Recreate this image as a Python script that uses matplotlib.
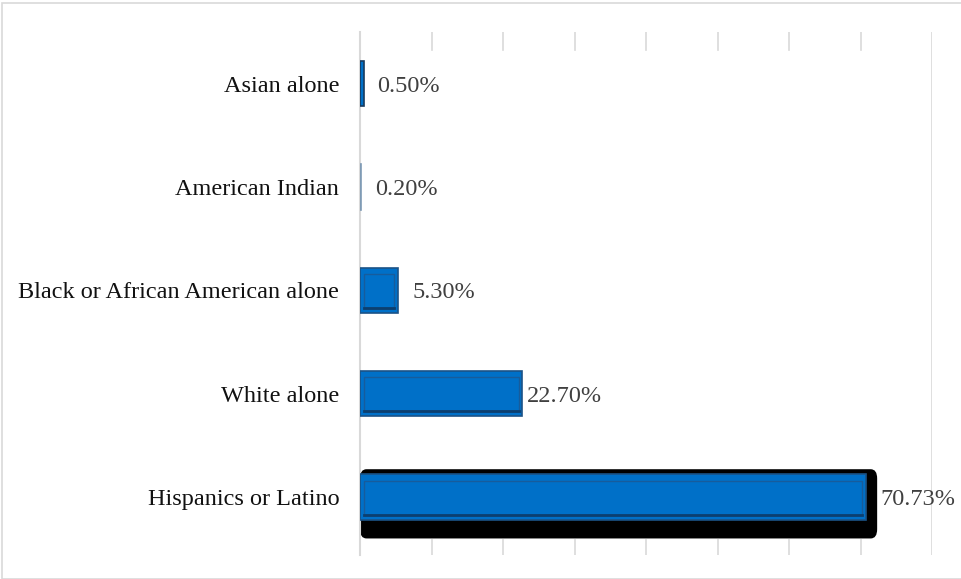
import matplotlib.pyplot as plt
from matplotlib.patches import FancyBboxPatch, Rectangle

# data (bottom to top, as drawn)
categories = ['Hispanics or Latino', 'White alone', 'Black or African American alone',
              'American Indian', 'Asian alone']
values = [70.73, 22.70, 5.30, 0.20, 0.50]
value_labels = ['70.73%', '22.70%', '5.30%', '0.20%', '0.50%']
label_offsets = [2, 3.6, 10.8, 10, 9.4]   # points, as placed in the original

plt.rcParams['font.family'] = ['Liberation Serif', 'DejaVu Serif']

fig = plt.figure(figsize=(9.61, 5.79), dpi=100)
ax = fig.add_axes([360/961, 1 - 555/579, 572/961, 523/579])

ax.set_xlim(0, 80)
ax.set_ylim(-0.56, 4.5)
ypos = list(range(len(categories)))
bar_h = 0.44

# black shadow behind the largest bar
big = values.index(max(values))
shadow = FancyBboxPatch((0, ypos[big] - 0.40), values[big] + 1.6, 0.67,
                        boxstyle='round,pad=0,rounding_size=0.9',
                        mutation_aspect=0.1, facecolor='black', edgecolor='none', zorder=2)
ax.add_patch(shadow)

edge_cols = ['#1b5387', '#1b5387', '#1b5387', '#7f9bb5', '#173a5e']
ax.barh(ypos, values, height=bar_h, color='#0070c8', edgecolor=edge_cols,
        linewidth=1.2, zorder=3)
# inner bevel outline
for y, v in zip(ypos, values):
    if v > 2:
        ax.add_patch(Rectangle((0.5, y - bar_h/2 + 0.05), v - 1.0, bar_h - 0.11,
                               fill=False, edgecolor='#175c9c', linewidth=1.0, zorder=4))
        ax.plot([0.5, v - 0.5], [y - bar_h/2 + 0.05] * 2, color='#0c3f6f', lw=2.0, zorder=4)

for y, v, lab, off in zip(ypos, values, value_labels, label_offsets):
    extra = 1.6 if y == ypos[big] else 0
    ax.annotate(lab, (v + extra, y), xytext=(off, 0),
                textcoords='offset points', va='center_baseline', ha='left',
                fontsize=17.5, color='#404040')

ax.set_yticks(ypos)
ax.set_yticklabels(categories, fontsize=17.5, color='#111111')
ax.tick_params(axis='y', length=0, pad=15)
ax.set_xticks([])

# gridlines only visible as short stubs at top and bottom
for x in range(10, 80, 10):
    ax.axvline(x, ymin=0, ymax=15/523, color='#d9d9d9', lw=1.2, zorder=1)
    ax.axvline(x, ymin=1 - 18/523, ymax=1, color='#d9d9d9', lw=1.2, zorder=1)
ax.axvline(80, color='#d9d9d9', lw=1.2, zorder=1)

for s in ['top', 'right', 'bottom']:
    ax.spines[s].set_visible(False)
ax.spines['left'].set_color('#d9d9d9')
ax.spines['left'].set_linewidth(1.5)

fig.add_artist(Rectangle((2/961, 0), 1, 1 - 3/579, transform=fig.transFigure,
                         fill=False, edgecolor='#d9d9d9', linewidth=1.2))

fig.savefig('out.png', dpi=100)
